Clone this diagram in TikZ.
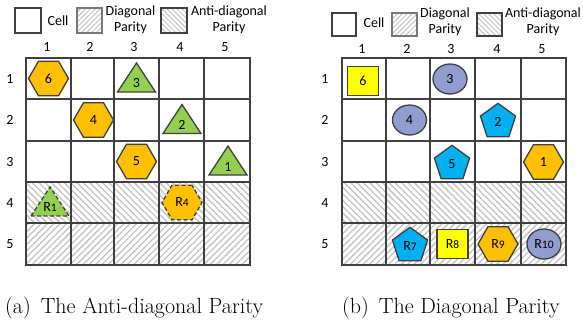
\documentclass[tikz,border=0pt]{standalone}
\usepackage{fontspec}
\newfontfamily\lblfont{Carlito}
\usetikzlibrary{shapes.geometric,patterns.meta}
\definecolor{gridc}{RGB}{64,64,64}
\definecolor{hexc}{RGB}{255,192,0}
\definecolor{tric}{RGB}{146,208,80}
\definecolor{pentc}{RGB}{0,176,240}
\definecolor{circc}{RGB}{143,158,206}
\definecolor{sqc}{RGB}{255,255,0}
\definecolor{hatchc}{RGB}{195,195,195}
\definecolor{legc}{RGB}{120,120,120}
\newcommand{\smd}[1]{{\fontsize{11.5}{12}\selectfont #1}}
\tikzset{
 lbl/.style={font=\lblfont\fontsize{14}{16}\selectfont, inner sep=0pt},
 shp/.style={draw=gridc, line width=1.3pt, inner sep=0pt, font=\lblfont\fontsize{14}{16}\selectfont},
 hexn/.style={shp, regular polygon, regular polygon sides=6, minimum size=40pt, fill=hexc},
 pentn/.style={shp, regular polygon, regular polygon sides=5, minimum size=37pt, fill=pentc},
 circn/.style={shp, ellipse, minimum width=34pt, minimum height=30pt, fill=circc},
 sqn/.style={shp, rectangle, minimum width=31pt, minimum height=29pt, fill=sqc},
 trin/.style={draw=gridc, line width=1.3pt, fill=tric, line join=miter},
 dsh/.style={dash pattern=on 4pt off 2.5pt},
 diagp/.style={pattern={Lines[angle=45,distance=4.5pt,line width=1.3pt]}, pattern color=hatchc},
 antip/.style={pattern={Lines[angle=-45,distance=4.5pt,line width=1.3pt]}, pattern color=hatchc},
 diagl/.style={pattern={Lines[angle=45,distance=3.5pt,line width=1pt]}, pattern color=hatchc},
 antil/.style={pattern={Lines[angle=-45,distance=3.5pt,line width=1pt]}, pattern color=hatchc},
 gridl/.style={draw=gridc, line width=1.8pt, line cap=rect},
 captext/.style={font=\fontsize{22}{24}\selectfont, inner sep=0pt, anchor=base west},
}
% triangle: name, x, y, text, extra style
\newcommand{\tri}[5]{%
 \draw[trin,#5] (#2-19,#3+13.5) -- (#2,#3-15.5) -- (#2+19,#3+13.5) -- cycle;
 \node[lbl] (#1) at (#2,#3+5) {#4};}
\begin{document}
\begin{tikzpicture}[x=1pt,y=-1pt]
\useasboundingbox (0,0) rectangle (583,322);

% ---------- legends ----------
\draw[draw=gridc, line width=1.3pt] (15,8) rectangle (41,33);
\node[lbl] (lcell) at (58,21) {Cell};
\draw[diagl, draw=legc, line width=1.3pt] (77,8) rectangle (102,33);
\node[lbl, align=center] (ldiag) at (130.5,20) {Diagonal\\Parity};
\draw[antil, draw=gridc, line width=1.3pt] (161,8) rectangle (187,33);
\node[lbl, align=center] (lanti) at (229,20) {Anti-diagonal\\Parity};

\draw[draw=gridc, line width=1.3pt] (332,13) rectangle (356,36);
\node[lbl] (rcell) at (374,23) {Cell};
\draw[diagl, draw=legc, line width=1.3pt] (392,13) rectangle (417,36);
\node[lbl, align=center] (rdiag) at (445,22) {Diagonal\\Parity};
\draw[antil, draw=gridc, line width=1.3pt] (477,13) rectangle (502,36);
\node[lbl, align=center] (ranti) at (543,22) {Anti-diagonal\\Parity};

% ---------- left grid ----------
\path[antip] (26,182) rectangle (250,223);
\path[diagp] (26,223) rectangle (250,265);
\foreach \x in {26,71,114,159,204,250} \draw[gridl] (\x,58) -- (\x,265);
\foreach \y in {58,99,141,182,223,265} \draw[gridl] (26,\y) -- (250,\y);
\foreach \x/\t in {47/1,90/2,134/3,180/4,225/5} \node[lbl] (lc\t) at (\x,47) {\t};
\foreach \y/\t in {78.5/1,120/2,161.5/3,202.5/4,244/5} \node[lbl] (lr\t) at (10,\y) {\t};

\node[hexn] (a6) at (48.5,78.5) {6};
\tri{a3}{136.5}{78.5}{3}{}
\node[hexn] (a4) at (93.5,120) {4};
\tri{a2}{182}{120}{2}{}
\node[hexn] (a5) at (136.5,161.5) {5};
\tri{a1}{228}{161.5}{1}{}
\tri{aR1}{50}{202.5}{R\smd{1}}{dsh}
\node[hexn, dsh] (aR4) at (182,202.5) {R\smd{4}};

% ---------- right grid ----------
\path[antip] (342,182) rectangle (566,223);
\path[diagp] (342,223) rectangle (566,265);
\foreach \x in {342,386,430,475,521,566} \draw[gridl] (\x,58) -- (\x,265);
\foreach \y in {58,99,141,182,223,265} \draw[gridl] (342,\y) -- (566,\y);
\foreach \x/\t in {362/1,407/2,451/3,497/4,542/5} \node[lbl] (rc\t) at (\x,49) {\t};
\foreach \y/\t in {78.5/1,120/2,161.5/3,202.5/4,244/5} \node[lbl] (rr\t) at (325,\y) {\t};

\node[sqn] (b6) at (363,81) {6};
\node[circn] (b3) at (450,79) {3};
\node[circn] (b4) at (409.5,120) {4};
\node[pentn] (b2) at (498,121.8) {2};
\node[pentn] (b5) at (452,163.8) {5};
\node[hexn] (b1) at (543.5,162) {1};
\node[pentn] (bR7) at (410,245.8) {R\smd{7}};
\node[sqn] (bR8) at (452.5,244) {R\smd{8}};
\node[hexn] (bR9) at (498,244) {R\smd{9}};
\node[circn] (bR10) at (544,244) {R\smd{10}};

% ---------- captions ----------
\node[captext] (capa) at (5,313) {(a)\hspace{0.45em}The Anti-diagonal Parity};
\node[captext] (capb) at (342,313) {(b)\hspace{0.45em}The Diagonal Parity};
\end{tikzpicture}
\end{document}
